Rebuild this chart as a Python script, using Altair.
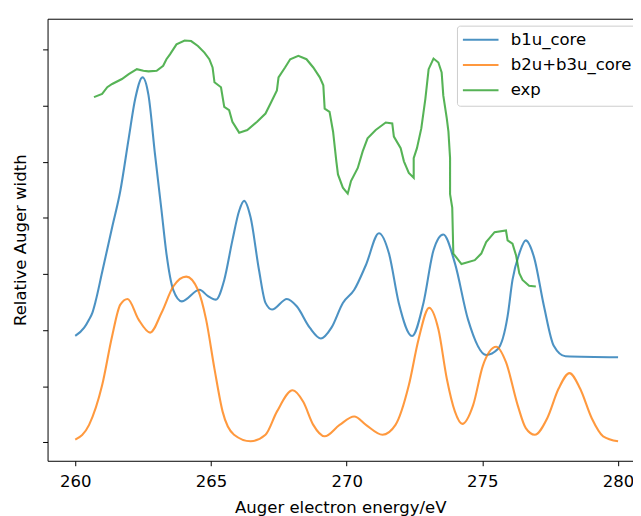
import altair as alt
import pandas as pd

# b1u_core curve
b1u_x = [260.0, 260.33, 260.51, 260.63, 260.75, 260.99, 261.36, 261.66, 261.97, 262.21,
         262.48, 262.70, 262.94, 263.18, 263.36, 263.61, 263.93, 264.58, 264.88, 265.18,
         265.49, 265.79, 266.04, 266.22, 266.46, 266.77, 267.01, 267.25, 267.80, 268.16,
         268.64, 269.05, 269.44, 269.86, 270.28, 270.71, 271.19, 271.56, 271.92, 272.41,
         272.83, 273.20, 273.56, 273.99, 274.47, 275.14, 275.57, 275.93, 276.11, 276.36,
         276.60, 276.90, 277.27, 277.63, 278.06, 280.0]
b1u_y = [1.895, 2.043, 2.190, 2.308, 2.512, 3.030, 3.833, 4.479, 5.418, 6.123,
         6.505, 6.183, 5.126, 4.127, 3.364, 2.718, 2.512, 2.718, 2.610, 2.542,
         2.894, 3.599, 4.127, 4.303, 4.009, 3.070, 2.484, 2.366, 2.554, 2.424,
         2.043, 1.850, 2.043, 2.484, 2.718, 3.160, 3.727, 3.364, 2.484, 1.895,
         2.484, 3.423, 3.704, 3.188, 2.190, 1.555, 1.661, 2.248, 2.894, 3.364,
         3.599, 3.305, 2.424, 1.719, 1.533, 1.515]

# b2u+b3u_core curve
b2u_x = [260.0, 260.51, 260.99, 261.36, 261.66, 261.93, 262.33, 262.76, 263.18, 263.61,
         264.09, 264.52, 264.82, 265.13, 265.43, 265.85, 266.46, 267.01, 267.43, 268.01,
         268.40, 268.77, 269.19, 269.74, 270.28, 270.71, 271.32, 271.80, 272.29, 272.65,
         273.04, 273.38, 273.69, 273.99, 274.26, 274.66, 275.02, 275.51, 275.87, 276.30,
         276.60, 276.93, 277.39, 277.81, 278.21, 278.60, 279.03, 279.45, 280.0]
b2u_y = [0.046, 0.310, 1.015, 1.895, 2.454, 2.554, 2.190, 1.955, 2.308, 2.776,
         2.952, 2.718, 2.190, 1.309, 0.546, 0.134, 0.018, 0.134, 0.546, 0.927,
         0.722, 0.310, 0.106, 0.310, 0.458, 0.310, 0.134, 0.310, 1.015, 1.837,
         2.396, 2.013, 1.133, 0.546, 0.328, 0.662, 1.367, 1.702, 1.427, 0.662,
         0.252, 0.134, 0.428, 0.957, 1.233, 0.957, 0.428, 0.106, 0.018]

# experimental curve
exp_x = [260.69, 260.99, 261.18, 261.36, 261.72, 261.97, 262.27, 262.51, 262.70, 263.00,
         263.24, 263.36, 263.49, 263.73, 264.03, 264.27, 264.52, 264.76, 264.94, 265.06,
         265.13, 265.37, 265.49, 265.67, 265.79, 266.04, 266.34, 266.70, 267.01, 267.19,
         267.43, 267.49, 267.73, 267.92, 268.22, 268.52, 268.77, 269.01, 269.14, 269.19,
         269.37, 269.50, 269.62, 269.68, 269.86, 270.04, 270.16, 270.41, 270.59, 270.77,
         271.07, 271.44, 271.68, 271.74, 271.99, 272.11, 272.29, 272.47, 272.47, 272.59,
         272.75, 272.90, 273.02, 273.20, 273.38, 273.50, 273.56, 273.69, 273.75, 273.81,
         273.81, 273.89, 273.93, 274.23, 274.72, 274.96, 275.14, 275.45, 275.87, 275.93,
         276.11, 276.24, 276.36, 276.48, 276.72, 276.97]
exp_y = [6.153, 6.211, 6.329, 6.387, 6.475, 6.563, 6.651, 6.623, 6.611, 6.623,
         6.711, 6.828, 6.916, 7.092, 7.162, 7.152, 7.064, 6.946, 6.828, 6.681,
         6.417, 6.329, 5.977, 5.919, 5.713, 5.519, 5.566, 5.713, 5.859, 6.035,
         6.271, 6.505, 6.681, 6.828, 6.888, 6.828, 6.681, 6.505, 6.364, 5.947,
         5.889, 5.536, 5.008, 4.774, 4.538, 4.432, 4.656, 4.890, 5.184, 5.418,
         5.566, 5.700, 5.683, 5.448, 5.242, 5.008, 4.802, 4.714, 5.066, 5.242,
         5.595, 6.123, 6.651, 6.840, 6.769, 6.593, 6.183, 5.771, 5.536, 5.066,
         4.421, 4.185, 3.364, 3.176, 3.246, 3.364, 3.569, 3.745, 3.775, 3.599,
         3.541, 3.335, 3.012, 2.894, 2.788, 2.776]

series_names = ["b1u_core", "b2u+b3u_core", "exp"]
series_colors = ["#1f77b4", "#ff7f0e", "#2ca02c"]
x_ticks = [260, 265, 270, 275, 280]
y_ticks = [0, 1, 2, 3, 4, 5, 6, 7]

theory = pd.concat([
    pd.DataFrame({"x": b1u_x, "y": b1u_y, "series": series_names[0], "i": range(len(b1u_x))}),
    pd.DataFrame({"x": b2u_x, "y": b2u_y, "series": series_names[1], "i": range(len(b2u_x))}),
])
expdf = pd.DataFrame({"x": exp_x, "y": exp_y, "series": series_names[2], "i": range(len(exp_x))})

FS = 16.7

xscale = alt.Scale(domain=[258.98, 280.55], nice=False, zero=False)
yscale = alt.Scale(domain=[-0.33, 7.55], nice=False, zero=False)

color = alt.Color(
    "series:N",
    scale=alt.Scale(domain=series_names, range=series_colors),
    legend=alt.Legend(
        title=None, orient="none", legendX=414, legendY=7,
        symbolType="M-3.6,0H3.6", symbolSize=100, symbolStrokeWidth=2, symbolOpacity=0.8,
        symbolOffset=9.65,
        labelFontSize=FS, labelOffset=22, rowPadding=7.5, padding=6,
        fillColor="rgba(255,255,255,0.8)", strokeColor="#cccccc", cornerRadius=3,
        labelColor="black", labelFont="DejaVu Sans",
    ),
)

bottom_axis = alt.Axis(values=x_ticks, title="Auger electron energy/eV", grid=False,
                       tickSize=5, tickColor="black", domainColor="black",
                       labelFontSize=FS, titleFontSize=FS, labelColor="black",
                       titleColor="black", titleFontWeight="normal",
                       labelPadding=8, titlePadding=10, orient="bottom")
top_axis = alt.Axis(orient="top", labels=False, ticks=False, grid=False, title="",
                    domainColor="black")
left_axis = alt.Axis(values=y_ticks, labels=False, title="Relative Auger width", grid=False,
                     tickSize=5, tickColor="black", domainColor="black",
                     titleFontSize=FS, titleColor="black", titleFontWeight="normal",
                     titlePadding=13)

theory_layer = alt.Chart(theory).mark_line(strokeWidth=2.1, opacity=0.8, interpolate="monotone").encode(
    x=alt.X("x:Q", scale=xscale, axis=bottom_axis),
    y=alt.Y("y:Q", scale=yscale, axis=left_axis),
    color=color,
    order="i:Q",
)
exp_layer = alt.Chart(expdf).mark_line(strokeWidth=2.1, opacity=0.8).encode(
    x=alt.X("x:Q", scale=xscale, axis=top_axis),
    y=alt.Y("y:Q", scale=yscale, axis=left_axis),
    color=color,
    order="i:Q",
)

chart = alt.layer(theory_layer, exp_layer).resolve_axis(x="independent").properties(
    width=592, height=447,
    autosize=alt.AutoSizeParams(type="none"),
    padding={"left": 40, "top": 8, "right": 0, "bottom": 53},
).configure(font="DejaVu Sans").configure_view(strokeOpacity=0)

chart.save("out.html", embed_options={"renderer": "svg", "actions": False})
